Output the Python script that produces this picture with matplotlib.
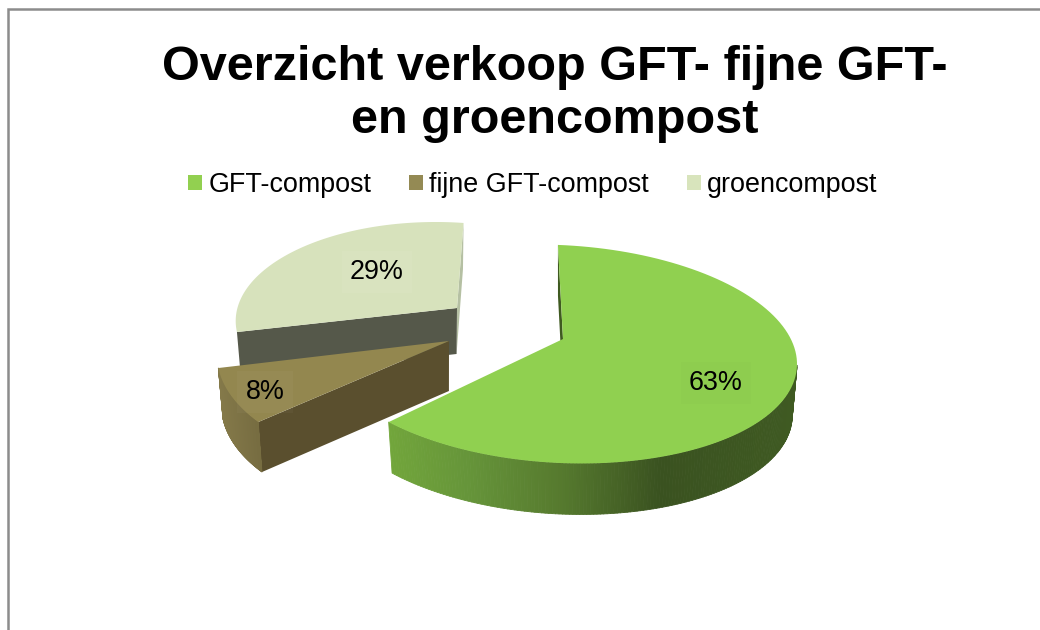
import matplotlib
matplotlib.use('Agg')
import matplotlib.pyplot as plt
import numpy as np
from matplotlib.collections import PolyCollection
from matplotlib.colors import to_rgb
from matplotlib.patches import Patch

plt.rcParams['font.family'] = ['Liberation Sans', 'DejaVu Sans']

#data
names = ['GFT-compost', 'fijne GFT-compost', 'groencompost']
values = [63, 8, 29]
title = 'Overzicht verkoop GFT- fijne GFT-\nen groencompost'

#colours per slice
top_colors = ['#90d050', '#93874f', '#d7e2bc']
legend_colors = ['#92d050', '#948a54', '#d8e4bc']
side_colors = ['#3f5a20', '#5a4f2e', '#b5c0a3']
start_side_colors = ['#3f5a20', '#5a4f2e', '#55584a']
box_colors = ['black', 'white', 'white']
box_alpha = [0.012, 0.03, 0.05]

#slice layout in pixels: ellipse centre, radii, skew, start angle, tip, depth
#start_wall / end_wall / outer say which sides can be seen
shapes = [
    dict(cx=560, cy=354, rx=237, ry=109, skew=10, start=90.5, tip=(563, 339), depth=51,
         start_wall=True, end_wall=False, outer=True),
    dict(cx=445, cy=355.5, rx=228, ry=116, skew=0, start=215, tip=(449, 341), depth=50,
         start_wall=True, end_wall=False, outer=True),
    dict(cx=435.7, cy=321, rx=200, ry=99, skew=0, start=186.4, tip=(457, 308), depth=46,
         start_wall=True, end_wall=True, outer=False),
]
label_pos = [(716, 383), (265, 392), (377, 272)]

#outer wall shading, stops are (x - cx) / rx
wall_stops = [
    ([-0.73, -0.4, 0, 0.42, 1], ['#72a63b', '#66953a', '#567a2e', '#3a5220', '#3f5a22']),
    ([-1, -0.8], ['#857a4a', '#756b40']),
    None,
]
shrink = 0.98  # lower rim is a bit narrower, fake perspective


def arc(s, t0, t1, n=120):
    t = np.radians(np.linspace(t0, t1, n))
    x = s['cx'] + s['rx'] * np.cos(t)
    y = s['cy'] - s['ry'] * np.sin(t) + s['skew'] * np.cos(t)
    return x, y


def lower(s, x, y):
    # same points moved down to the bottom of the slice
    return s['cx'] + (np.asarray(x) - s['cx']) * shrink, np.asarray(y) + s['depth']


def edge_wall(ax, s, angle, color):
    tip = s['tip']
    tip_low = lower(s, tip[0], tip[1])
    x0, y0 = arc(s, angle, angle, 1)
    xl, yl = lower(s, x0, y0)
    ax.fill([tip[0], x0[0], xl[0], tip_low[0]], [tip[1], y0[0], yl[0], tip_low[1]],
            color=color, lw=0, zorder=2)


def draw_slice(ax, s, value, top, side, start_side, stops):
    sweep = value / sum(values) * 360
    t_end = s['start'] - sweep

    if s['end_wall']:
        edge_wall(ax, s, t_end, side)
    if s['start_wall']:
        edge_wall(ax, s, s['start'], start_side)

    # outer wall only where it faces us
    if s['outer']:
        ts = np.linspace(t_end, s['start'], 200)
        ts = ts[np.sin(np.radians(ts)) <= 0]
        xa, ya = arc(s, ts[0], ts[-1], 160)
        xb, yb = lower(s, xa, ya)
        quads = [[(xa[i], ya[i]), (xa[i + 1], ya[i + 1]), (xb[i + 1], yb[i + 1]), (xb[i], yb[i])]
                 for i in range(len(xa) - 1)]
        pos = (xa[:-1] - s['cx']) / s['rx']
        rgb = np.array([to_rgb(c) for c in stops[1]])
        cols = np.column_stack([np.interp(pos, stops[0], rgb[:, k]) for k in range(3)])
        ax.add_collection(PolyCollection(quads, facecolors=cols, edgecolors=cols, linewidths=0.6, zorder=2))

    # top face
    tip = s['tip']
    xt, yt = arc(s, s['start'], t_end)
    ax.fill(np.r_[tip[0], xt], np.r_[tip[1], yt], color=top, lw=0, zorder=2)


fig = plt.figure(figsize=(10.4, 6.3), dpi=100)
ax = fig.add_axes([0, 0, 1, 1])
ax.set_xlim(0, 1040)
ax.set_ylim(630, 0)
ax.axis('off')

#chart border, only top and left are in the picture
ax.plot([8, 8, 1040], [630, 9, 9], color='#8c8c8c', lw=1.8, solid_joinstyle='miter')

ax.text(554.5, 94, title, ha='center', va='center', fontsize=35, fontweight='bold',
        linespacing=1.22, color='black')

#back to front
for i in [2, 1, 0]:
    draw_slice(ax, shapes[i], values[i], top_colors[i], side_colors[i], start_side_colors[i], wall_stops[i])
    ax.text(label_pos[i][0], label_pos[i][1], f'{values[i]}%', ha='center', va='center',
            fontsize=19.4, color='black', zorder=3,
            bbox=dict(boxstyle='square,pad=0.3', fc=box_colors[i], ec='none', alpha=box_alpha[i]))

handles = [Patch(facecolor=c, edgecolor='none') for c in legend_colors]
ax.legend(handles, names, loc='center', bbox_to_anchor=(533 / 1040, 1 - 185 / 630), ncol=3,
          frameon=False, fontsize=19.4, handlelength=0.52, handleheight=0.52,
          handletextpad=0.22, columnspacing=1.42, borderpad=0)

plt.savefig('out.png', dpi=100)
